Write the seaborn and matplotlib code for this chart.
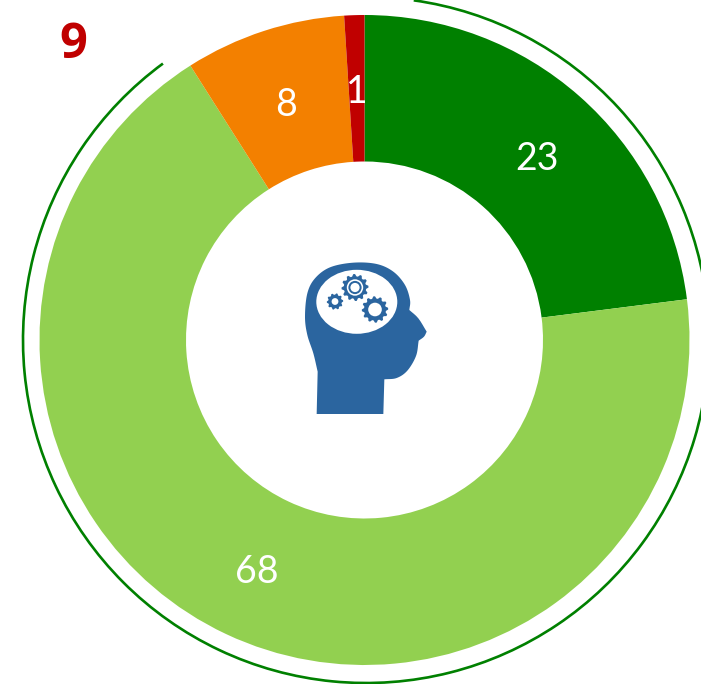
import numpy as np
import matplotlib
matplotlib.use("Agg")
import matplotlib.pyplot as plt
from matplotlib.patches import Arc, Ellipse, Circle, Polygon
import seaborn as sns

values = [23, 68, 8, 1]
labels = ["23", "68", "8", "1"]
colors = ["#008000", "#92D050", "#F38000", "#C00000"]
title_number = "9"

sns.set_theme(style="white")
plt.rcParams["font.family"] = ["Lato", "DejaVu Sans"]
palette = sns.color_palette(colors)

W, H = 701, 684
BLUE = "#2B659F"
fig = plt.figure(figsize=(W / 100, H / 100), dpi=100)
ax = fig.add_axes([0, 0, 1, 1])


def Y(y):
    return H - y


# donut
cx, cy, R, r_in = 364.5, 340, 325, 178.5
ax.pie(values, colors=palette, startangle=90, counterclock=False, center=(cx, Y(cy)),
       radius=R, frame=True, wedgeprops=dict(width=R - r_in, linewidth=0))
ax.set_xlim(0, W)
ax.set_ylim(0, H)
ax.set_aspect("equal")
ax.axis("off")

# outer ring
ax.add_patch(Arc((366, Y(340)), 686, 686, theta1=126.3, theta2=442,
                 color="#008000", lw=1.9))

# value labels
label_pos = [(537, 159), (257, 572), (286, 105), (357, 92)]
for t, (x, y) in zip(labels, label_pos):
    ax.text(x, Y(y), t, color="white", fontsize=27, ha="center", va="center")

ax.text(73, Y(45), title_number, color="#C00000", fontsize=35, fontweight="bold",
        family="Open Sans", ha="center", va="center")


# head icon
def catmull(pts, n=12):
    p = np.array(pts, float)
    p = np.vstack([2 * p[0] - p[1], p, 2 * p[-1] - p[-2]])
    out = []
    for i in range(1, len(p) - 2):
        for t in np.linspace(0, 1, n, endpoint=False):
            out.append(0.5 * ((2 * p[i]) + (p[i + 1] - p[i - 1]) * t
                              + (2 * p[i - 1] - 5 * p[i] + 4 * p[i + 1] - p[i + 2]) * t ** 2
                              + (3 * p[i] - p[i - 1] - 3 * p[i + 1] + p[i + 2]) * t ** 3))
    out.append(p[-2])
    return out


skull = [(83, 365), (70, 310), (52, 255), (45, 200), (52, 130), (75, 85), (120, 52),
         (190, 38), (260, 42), (310, 65), (345, 105), (360, 150), (358, 180)]
nose = [(358, 180), (385, 205), (410, 245)]
tip = [(410, 245), (402, 260), (386, 272)]
jaw = [(386, 272), (378, 318), (352, 362), (320, 384), (283, 388)]
outline = [(80, 492)] + catmull(skull) + catmull(nose, 4) + catmull(tip, 4) + catmull(jaw) + [(280, 492)]
px = [(290 + x / 3, Y(250 + y / 3)) for x, y in outline]
ax.add_patch(Polygon(px, closed=True, fc=BLUE, ec="none", zorder=5))

ax.add_patch(Ellipse((356.8, Y(301.8)), 81, 64, angle=0, fc="white", ec="none", zorder=6))


def gear(x, y, r_out, r_root, teeth):
    a = np.linspace(0, 2 * np.pi, teeth * 4, endpoint=False)
    rad = np.tile([r_out, r_out, r_root, r_root], teeth)
    return [(x + q * np.cos(b), Y(y) + q * np.sin(b)) for q, b in zip(rad, a)]


gears = [(355, 287.5, 13.5, 11.2, 12, [(8.2, "white"), (6.6, BLUE), (4.6, "white")]),
         (375, 309.5, 13.2, 11.0, 12, [(6.8, "white")]),
         (335, 301.5, 8.2, 6.8, 10, [(3.4, "white")])]
for x, y, ro, rr, n, rings in gears:
    ax.add_patch(Polygon(gear(x, y, ro, rr, n), closed=True, fc=BLUE, ec="none", zorder=7))
    for i, (rad, col) in enumerate(rings):
        ax.add_patch(Circle((x, Y(y)), rad, fc=col, ec="none", zorder=8 + i))

fig.savefig("out.png", dpi=100)
